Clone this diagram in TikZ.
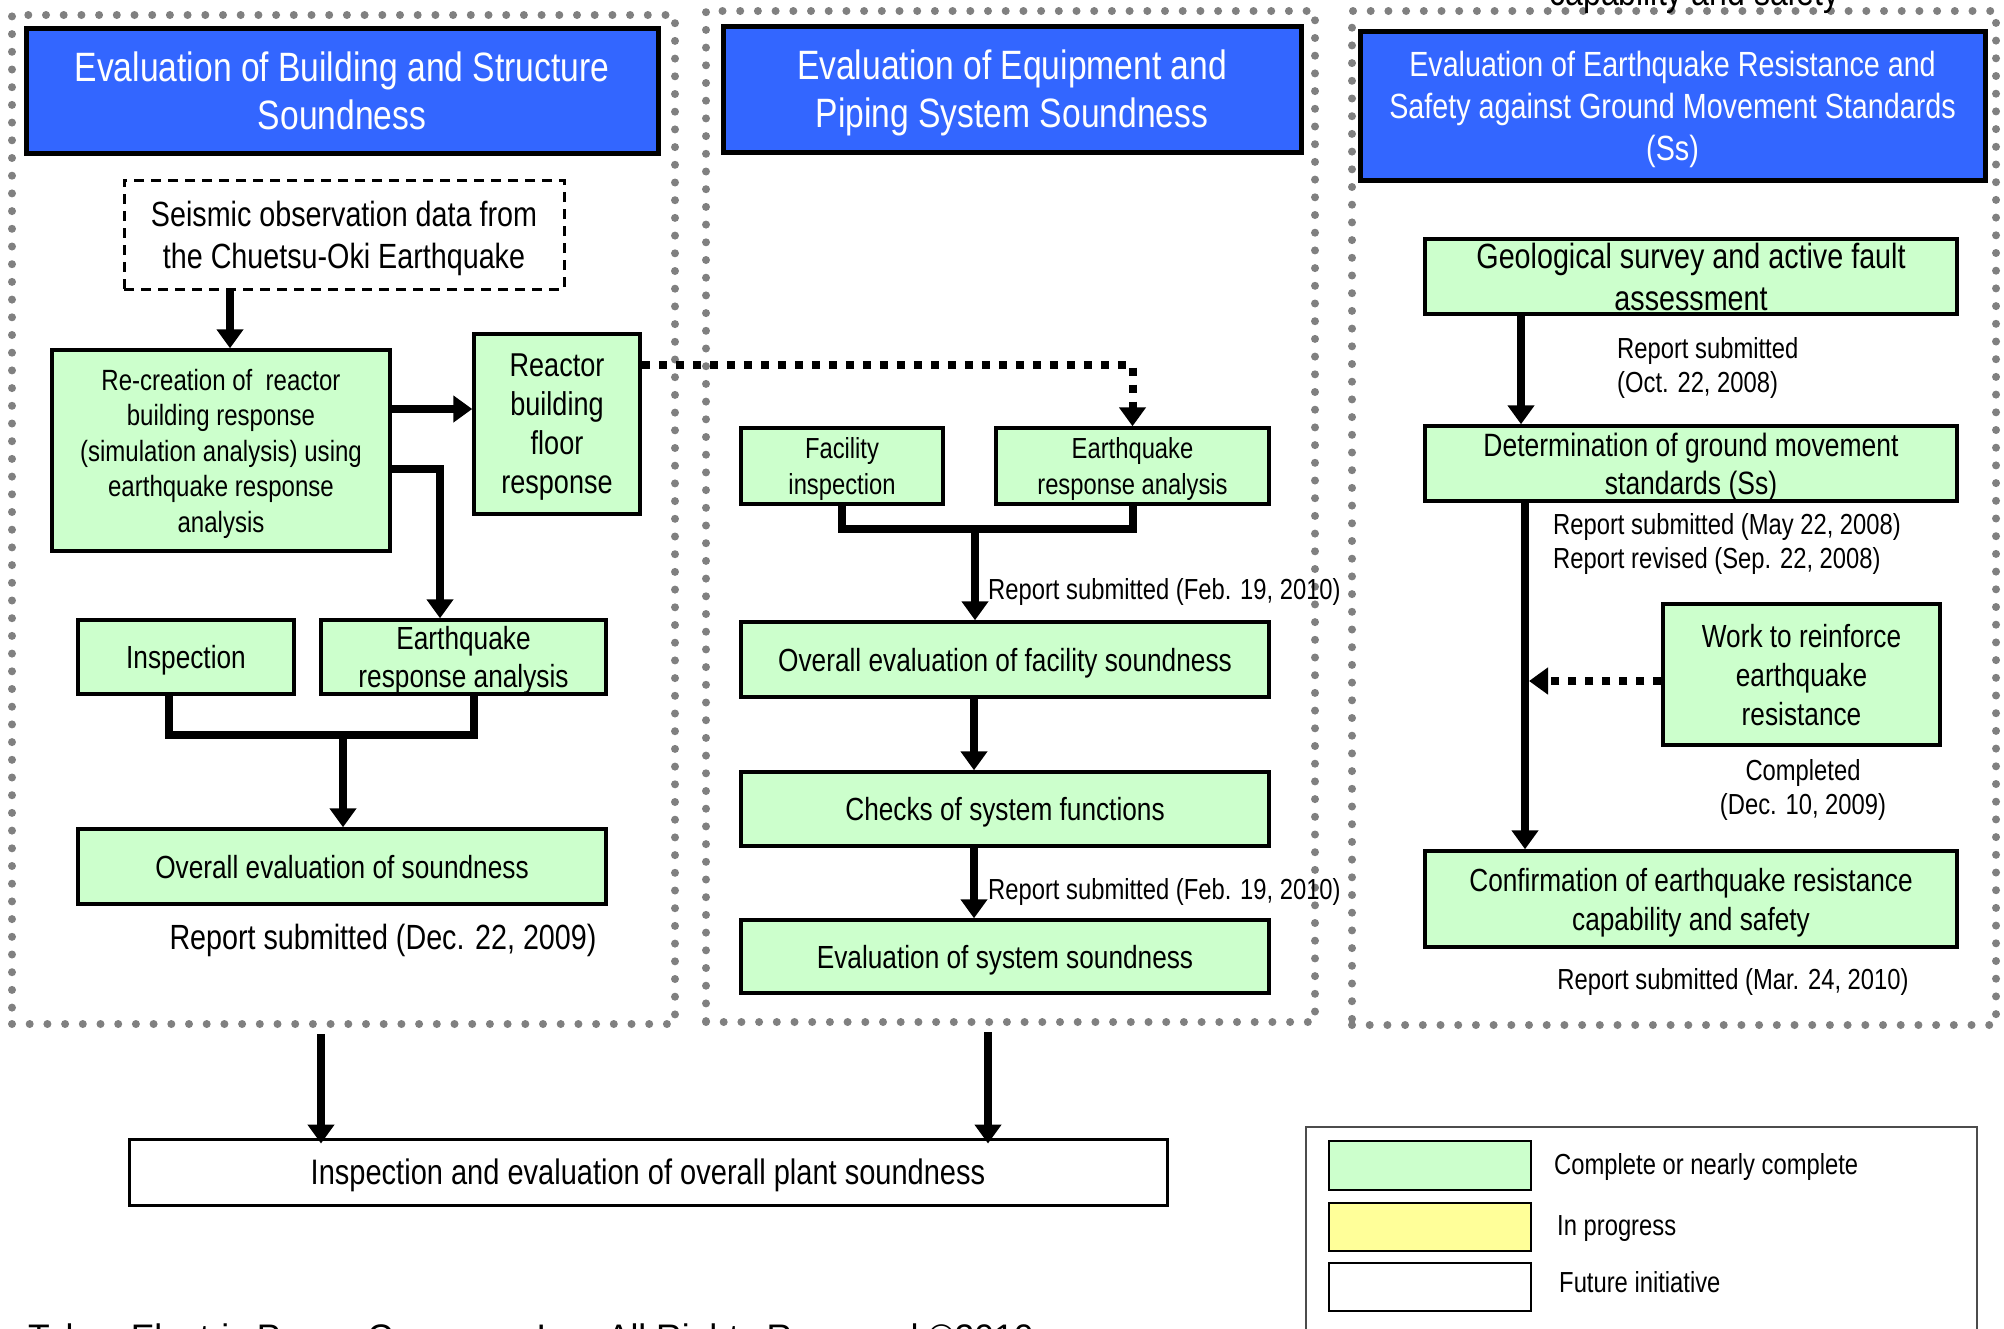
\documentclass[tikz,border=0pt]{standalone}
\usepackage{fontspec}
\setmainfont{Liberation Sans}[FakeStretch=0.82]
\newfontfamily\footfont{Liberation Sans}
\usetikzlibrary{arrows.meta}
\definecolor{tblue}{HTML}{3366FF}
\definecolor{lgreen}{HTML}{CCFFCC}
\definecolor{lyellow}{HTML}{FFFF99}
\definecolor{frgray}{HTML}{808080}
\newcommand{\myfs}[2]{\fontsize{#1pt}{#2pt}\selectfont}
\tikzset{
  frame/.style={draw=frgray, line width=8pt, dash pattern=on 0pt off 17.7pt, line cap=round, rectangle, inner sep=0pt},
  title/.style={draw=black, line width=5pt, fill=tblue, text=white, align=center, inner sep=0pt, text depth=0pt},
  gbox/.style={draw=black, line width=3.5pt, fill=lgreen, align=center, inner sep=0pt, text depth=0pt, font=\myfs{32}{39}},
  conn/.style={line width=8pt, black},
  arr/.style={conn, -{Triangle[width=26pt,length=19pt]}},
  dconn/.style={line width=8pt, black, dash pattern=on 8pt off 9pt},
  darr/.style={dconn, -{Triangle[width=26pt,length=19pt]}},
  note/.style={inner sep=0pt, font=\myfs{29}{34}, align=left, yshift=-3pt},
  swatch/.style={draw=black, line width=1.5pt, minimum width=202pt, inner sep=0pt}
}
\begin{document}
\begin{tikzpicture}[x=1pt,y=-1pt]
\useasboundingbox (0,0) rectangle (2004,1328);
\fill[white] (0,0) rectangle (2004,1328);
\clip (0,0) rectangle (2004,1328);

% dotted frames
\node[frame, minimum width=663pt, minimum height=1009pt] (lframe) at (343.5,519.5) {};
\node[frame, minimum width=609pt, minimum height=1011pt] (mframe) at (1010.5,516.5) {};
\node[frame, minimum width=644pt, minimum height=1014pt] (rframe) at (1674,518) {};

% clipped caption at top
\node[anchor=base, inner sep=0pt, font=\myfs{39}{46}] (captop) at (1694.5,5) {capability and safety};

% titles
\node[title, minimum width=632pt, minimum height=125pt, font=\myfs{41}{48}] (lt) at (342,90.5) {Evaluation of Building and Structure\\Soundness};
\node[title, minimum width=578pt, minimum height=126pt, font=\myfs{41}{48}] (mt) at (1012,89) {Evaluation of Equipment and\\Piping System Soundness};
\node[title, minimum width=625pt, minimum height=149pt, font=\myfs{35}{42}] (rt) at (1672.5,105.5) {Evaluation of Earthquake Resistance and\\Safety against Ground Movement Standards\\(Ss)};

% left column
\node[draw=black, line width=3pt, dash pattern=on 10pt off 7pt, fill=white, minimum width=440pt, minimum height=109pt, align=center, inner sep=0pt, text depth=0pt, font=\myfs{35}{42}] (seis) at (344,234.5) {Seismic observation data from\\the Chuetsu-Oki Earthquake};
\node[gbox, minimum width=338pt, minimum height=201pt, font=\myfs{29.3}{35.5}] (rec) at (221,450.5) {Re-creation of \ reactor\\building response\\(simulation analysis) using\\earthquake response\\analysis};
\node[gbox, minimum width=166pt, minimum height=180pt, font=\myfs{33}{39}] (rbf) at (557,424) {Reactor\\building\\floor\\response};
\node[gbox, minimum width=216pt, minimum height=74pt] (insp) at (186,657) {Inspection};
\node[gbox, minimum width=285pt, minimum height=74pt, font=\myfs{32}{38}] (eql) at (463.5,657) {Earthquake\\response analysis};
\node[gbox, minimum width=528pt, minimum height=75pt] (ovl) at (342,866.5) {Overall evaluation of soundness};
\node[note, font=\myfs{35}{42}] (repl) at (383,937) {Report submitted (Dec. 22, 2009)};

% middle column
\node[gbox, minimum width=202pt, minimum height=76pt, font=\myfs{29}{36}] (fac) at (842,466) {Facility\\inspection};
\node[gbox, minimum width=273pt, minimum height=76pt, font=\myfs{29}{36}] (eqm) at (1132.5,466) {Earthquake\\response analysis};
\node[gbox, minimum width=528pt, minimum height=75pt] (ovf) at (1005,659.5) {Overall evaluation of facility soundness};
\node[gbox, minimum width=528pt, minimum height=74pt] (chk) at (1005,809) {Checks of system functions};
\node[gbox, minimum width=528pt, minimum height=73pt] (evs) at (1005,956.5) {Evaluation of system soundness};

% right column
\node[gbox, minimum width=532pt, minimum height=75pt, font=\myfs{35}{42}] (geo) at (1691,276.5) {Geological survey and active fault\\assessment};
\node[gbox, minimum width=532pt, minimum height=75pt, font=\myfs{32.3}{38}] (det) at (1691,463.5) {Determination of ground movement\\standards (Ss)};
\node[gbox, minimum width=277pt, minimum height=141pt, font=\myfs{32}{39}] (work) at (1801.5,674.5) {Work to reinforce\\earthquake\\resistance};
\node[gbox, minimum width=532pt, minimum height=96pt, font=\myfs{32}{39}] (conf) at (1691,899) {Confirmation of earthquake resistance\\capability and safety};

% bottom box
\node[draw=black, line width=3pt, fill=white, minimum width=1038pt, minimum height=66pt, inner sep=0pt, text depth=0pt, font=\myfs{35.4}{40}] (bot) at (648,1172) {Inspection and evaluation of overall plant soundness};

% connectors, left
\draw[arr] ([xshift=-114pt]seis.south) -- ([xshift=-114pt]seis.south |- rec.north);
\draw[arr] ([yshift=41.5pt]rec.east) -- ([yshift=41.5pt]rec.east -| rbf.west);
\draw[arr] ([yshift=-18.5pt]rec.east) -| ([xshift=-23.5pt]eql.north);
\coordinate (mL) at (343,735);
\draw[conn] ([xshift=-17pt]insp.south) |- (mL) -| ([xshift=10.5pt]eql.south);
\draw[arr] (mL) -- (mL |- ovl.north);
\draw[darr] ([yshift=-33pt]rbf.north east) -| (eqm.north);

% connectors, middle
\coordinate (mM) at (975,529);
\draw[conn] (fac.south) |- (mM) -| (eqm.south);
\draw[arr] (mM) -- (mM |- ovf.north);
\draw[arr] ([xshift=-31pt]ovf.south) -- ([xshift=-31pt]chk.north);
\draw[arr] ([xshift=-31pt]chk.south) -- ([xshift=-31pt]evs.north);

% connectors, right
\draw[arr] ([xshift=-170pt]geo.south) -- ([xshift=-170pt]det.north);
\draw[arr] ([xshift=-166pt]det.south) -- ([xshift=-166pt]conf.north);
\coordinate (rv) at ([xshift=-162pt]det.south);
\draw[darr] ([yshift=-6.5pt]work.west) -- ([yshift=-6.5pt]work.west -| rv);

% connectors, bottom
\draw[arr] ([xshift=-22.5pt,yshift=-6pt]lframe.south) -- ([xshift=-22.5pt,yshift=-6pt]lframe.south |- bot.north);
\draw[arr] ([xshift=-22.5pt,yshift=-6pt]mframe.south) -- ([xshift=-22.5pt,yshift=-6pt]mframe.south |- bot.north);

% notes
\node[note, anchor=west] (feb1) at (988,589) {Report submitted (Feb. 19, 2010)};
\node[note, anchor=west] (feb2) at (988,889) {Report submitted (Feb. 19, 2010)};
\node[note, anchor=west] (oct) at (1617,365) {Report submitted\\(Oct. 22, 2008)};
\node[note, anchor=west] (may) at (1553,541) {Report submitted (May 22, 2008)\\Report revised (Sep. 22, 2008)};
\node[note, align=center] (comp) at (1803,787) {Completed\\(Dec. 10, 2009)};
\node[note] (mar) at (1733,979) {Report submitted (Mar. 24, 2010)};

% legend
\node[draw=gray!60!black, line width=1.5pt, minimum width=671pt, minimum height=213pt, inner sep=0pt] (leg) at (1641.5,1233.5) {};
\node[swatch, fill=lgreen, minimum height=49pt] (sw1) at (1430,1165.5) {};
\node[swatch, fill=lyellow, minimum height=48pt] (sw2) at (1430,1227) {};
\node[swatch, fill=white, minimum height=48pt] (sw3) at (1430,1287) {};
\node[note, anchor=west] (lg1) at (1554,1164) {Complete or nearly complete};
\node[note, anchor=west] (lg2) at (1557,1226) {In progress};
\node[note, anchor=west] (lg3) at (1559,1279) {Future initiative};

% footer (clipped)
\node[anchor=base west, inner sep=0pt, font=\footfont\myfs{35.5}{40}] (foot) at (28,1349) {Tokyo Electric Power Company, Inc. All Rights Reserved ©2010};
\end{tikzpicture}
\end{document}
